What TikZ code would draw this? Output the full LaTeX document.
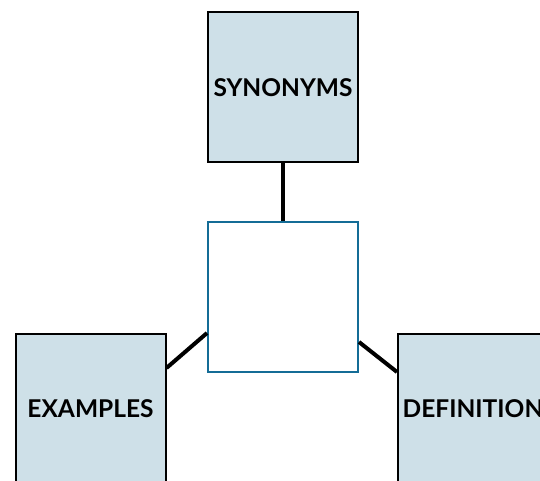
\documentclass[tikz,border=0pt]{standalone}
\usepackage{fontspec}
\setmainfont{Lato}
\usepackage{tikz}

\definecolor{boxfill}{RGB}{206,224,232}
\definecolor{ctrblue}{RGB}{20,108,150}

\begin{document}
\begin{tikzpicture}[x=1pt,y=-1pt,
  word/.style={rectangle, draw=black, line width=2pt, fill=boxfill,
    minimum width=150pt, minimum height=150pt, inner sep=0pt,
    font=\fontsize{24.5}{28}\selectfont\bfseries},
  link/.style={line width=4pt}]
\useasboundingbox (0,0) rectangle (540,481);
\clip (0,0) rectangle (540,481);
\node[word] (syn) at (283,87.5){SYNONYMS};
\node[rectangle, draw=ctrblue, line width=2pt, fill=white,
  minimum width=150pt, minimum height=150pt] (ctr) at (283,297){};
\node[word] (ex) at (90.5,409){EXAMPLES};
\node[word] (def) at (473,409){DEFINITION};
\draw[link] (syn.south) -- (ctr.north);
\draw[link] ([yshift=-36pt]ctr.west) -- ([yshift=41pt]ex.east);
\draw[link] ([yshift=-45pt]ctr.east) -- ([yshift=37pt]def.west);
\end{tikzpicture}
\end{document}
